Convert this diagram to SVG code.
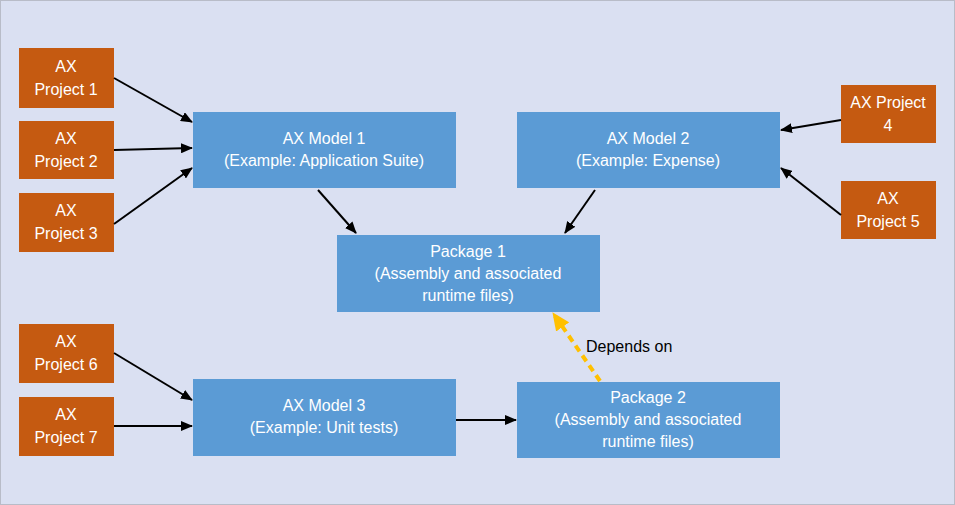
<svg xmlns="http://www.w3.org/2000/svg" width="955" height="505" viewBox="0 0 955 505">
<style>
.proj{fill:#C55A11;}
.blue{fill:#5B9BD5;}
.t{font-family:"Liberation Sans",Arial,sans-serif;font-size:16px;fill:#fff;text-anchor:middle;}
.lbl{font-family:"Liberation Sans",Arial,sans-serif;font-size:16px;fill:#000;}
.c{stroke:#000;stroke-width:2;fill:none;marker-end:url(#ah);}
.dep{stroke:#FFC000;stroke-width:4;stroke-dasharray:7,5;fill:none;marker-end:url(#ahy);}
</style>
<defs>
<marker id="ah" markerWidth="12" markerHeight="10" refX="11" refY="5" orient="auto" markerUnits="userSpaceOnUse">
<path d="M0,0 L12,5 L0,10 Z" fill="#000"/>
</marker>
<marker id="ahy" markerWidth="18" markerHeight="16" refX="17" refY="8" orient="auto" markerUnits="userSpaceOnUse">
<path d="M0,0 L18,8 L0,16 Z" fill="#FFC000"/>
</marker>
</defs>
<rect x="0.5" y="0.5" width="954" height="504" fill="#DAE0F2" stroke="#B8BCC8"/>
<g id="p1"><rect class="proj" x="19" y="48" width="95" height="60"/><text class="t" x="66" y="72">AX</text><text class="t" x="66" y="95">Project 1</text></g>
<g id="p2"><rect class="proj" x="19" y="121" width="95" height="58"/><text class="t" x="66" y="144">AX</text><text class="t" x="66" y="167">Project 2</text></g>
<g id="p3"><rect class="proj" x="19" y="193" width="95" height="59"/><text class="t" x="66" y="216">AX</text><text class="t" x="66" y="239">Project 3</text></g>
<g id="m1"><rect class="blue" x="193" y="112" width="263" height="76"/><text class="t" x="324" y="144">AX Model 1</text><text class="t" x="324" y="166">(Example: Application Suite)</text></g>
<g id="m2"><rect class="blue" x="517" y="112" width="263" height="76"/><text class="t" x="648" y="144">AX Model 2</text><text class="t" x="648" y="166">(Example: Expense)</text></g>
<g id="p4"><rect class="proj" x="841" y="85" width="95" height="58"/><text class="t" x="888" y="108">AX Project</text><text class="t" x="888" y="131">4</text></g>
<g id="p5"><rect class="proj" x="841" y="181" width="95" height="58"/><text class="t" x="888" y="204">AX</text><text class="t" x="888" y="227">Project 5</text></g>
<g id="pk1"><rect class="blue" x="337" y="235" width="263" height="77"/><text class="t" x="468" y="257">Package 1</text><text class="t" x="468" y="279">(Assembly and associated</text><text class="t" x="468" y="301">runtime files)</text></g>
<g id="p6"><rect class="proj" x="19" y="324" width="95" height="59"/><text class="t" x="66" y="347">AX</text><text class="t" x="66" y="370">Project 6</text></g>
<g id="p7"><rect class="proj" x="19" y="397" width="95" height="59"/><text class="t" x="66" y="420">AX</text><text class="t" x="66" y="443">Project 7</text></g>
<g id="m3"><rect class="blue" x="193" y="379" width="263" height="77"/><text class="t" x="324" y="411">AX Model 3</text><text class="t" x="324" y="433">(Example: Unit tests)</text></g>
<g id="pk2"><rect class="blue" x="517" y="382" width="263" height="76"/><text class="t" x="648" y="403">Package 2</text><text class="t" x="648" y="425">(Assembly and associated</text><text class="t" x="648" y="447">runtime files)</text></g>
<g id="connectors">
<line class="c" x1="114" y1="78" x2="192" y2="122"/>
<line class="c" x1="114" y1="150" x2="192" y2="148"/>
<line class="c" x1="114" y1="224" x2="192" y2="168"/>
<line class="c" x1="318" y1="190" x2="356" y2="233"/>
<line class="c" x1="595" y1="190" x2="565" y2="233"/>
<line class="c" x1="841" y1="120" x2="781" y2="130"/>
<line class="c" x1="841" y1="215" x2="781" y2="168"/>
<line class="c" x1="114" y1="353" x2="192" y2="400"/>
<line class="c" x1="114" y1="426" x2="192" y2="426"/>
<line class="c" x1="456" y1="420" x2="516" y2="420"/>
<line class="dep" x1="600" y1="381" x2="553" y2="313"/>
<text class="lbl" x="586" y="352">Depends on</text>
</g>
</svg>
